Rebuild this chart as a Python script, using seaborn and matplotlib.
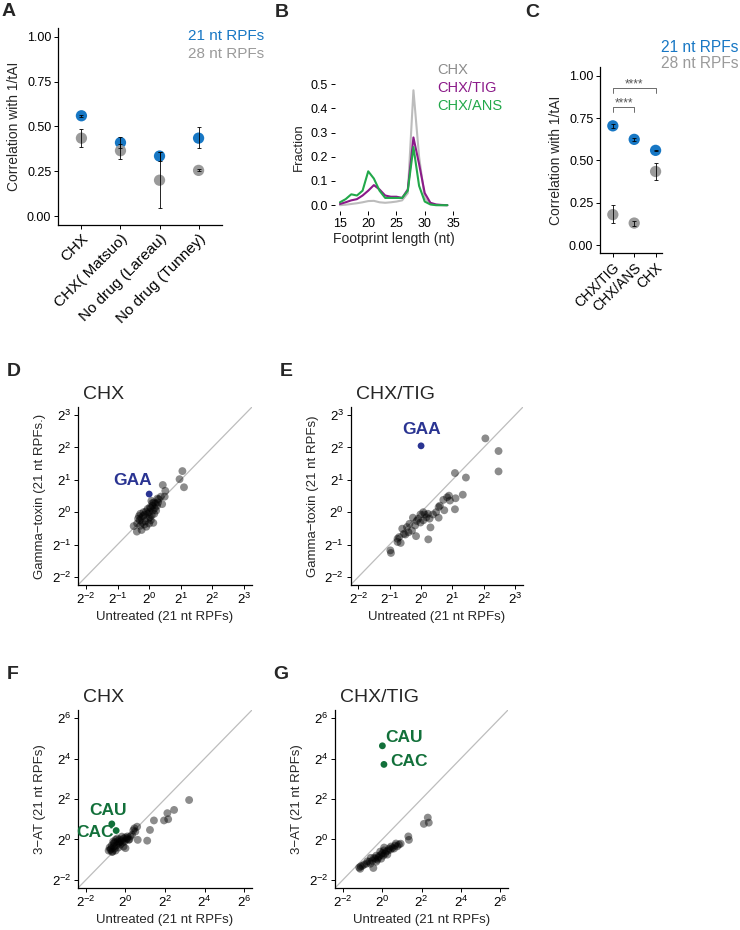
import numpy as np
import pandas as pd
import seaborn as sns
import matplotlib
matplotlib.use("Agg")
from matplotlib import pyplot as plt

sns.set_style("ticks")
plt.rcParams['font.family'] = ['Liberation Sans', 'DejaVu Sans']
plt.rcParams['mathtext.fontset'] = 'custom'
plt.rcParams['mathtext.rm'] = 'Liberation Sans'
plt.rcParams['mathtext.it'] = 'Liberation Sans:italic'

BLUE = "#1777c4"
GREY = "#9a9a9a"

########
# DATA #
########

# A: correlation with 1/tAI
samples_a = ["CHX", "CHX( Matsuo)", "No drug (Lareau)", "No drug (Tunney)"]
a21 = [0.56, 0.41, 0.335, 0.435]
a21_lo = [0.553, 0.38, 0.31, 0.378]
a21_hi = [0.567, 0.44, 0.36, 0.497]
a28 = [0.435, 0.365, 0.20, 0.255]
a28_lo = [0.385, 0.32, 0.045, 0.25]
a28_hi = [0.487, 0.40, 0.36, 0.26]

# B: footprint length distributions
lengths = list(range(15, 35))
frac_chx = [0.0, 0.002, 0.005, 0.008, 0.012, 0.017, 0.018, 0.012, 0.010, 0.012,
            0.015, 0.020, 0.050, 0.475, 0.20, 0.030, 0.005, 0.001, 0.0, 0.0]
frac_tig = [0.005, 0.012, 0.020, 0.025, 0.040, 0.060, 0.083, 0.065, 0.040, 0.035,
            0.035, 0.030, 0.065, 0.280, 0.170, 0.050, 0.010, 0.003, 0.001, 0.0]
frac_ans = [0.012, 0.025, 0.045, 0.040, 0.060, 0.140, 0.110, 0.060, 0.030, 0.030,
            0.030, 0.030, 0.060, 0.240, 0.080, 0.015, 0.003, 0.0, 0.0, 0.0]
treatments_b = ["CHX", "CHX/TIG", "CHX/ANS"]
colors_b = ["#bcbcbc", "#8b1a89", "#22a84a"]
text_colors_b = ["#8c8c8c", "#8b1a89", "#22a84a"]

# C: correlation with 1/tAI per treatment
samples_c = ["CHX/TIG", "CHX/ANS", "CHX"]
c21 = [0.705, 0.625, 0.56]
c21_lo = [0.693, 0.617, 0.555]
c21_hi = [0.717, 0.633, 0.565]
c28 = [0.18, 0.13, 0.435]
c28_lo = [0.13, 0.115, 0.385]
c28_hi = [0.235, 0.145, 0.487]

# D-G: log2 codon ratios (untreated, treated)
d_x = [1.05, 0.96, 1.10, 0.43, 0.51, 0.49, 0.37, 0.26, 0.20, 0.41, 0.30,
       0.15, 0.10, 0.05, 0.12, 0.0, -0.05, 0.08, -0.10, -0.15, -0.20, -0.25,
       -0.28, -0.30, 0.02, 0.18, 0.22, -0.02, 0.05, -0.12, -0.22, -0.35, -0.38,
       0.13, -0.09, -0.24, -0.39, -0.49, 0.10, -0.05, 0.25, -0.18, -0.32, 0.0,
       -0.15, 0.16, 0.28, 0.07, -0.28, 0.02]
d_y = [1.27, 1.02, 0.77, 0.84, 0.66, 0.48, 0.48, 0.42, 0.27, 0.25, 0.40,
       0.30, 0.20, 0.12, 0.05, 0.0, -0.05, -0.10, 0.02, -0.08, -0.12, -0.18,
       -0.05, -0.25, 0.15, 0.12, 0.05, -0.20, -0.25, -0.28, -0.32, -0.20, -0.35,
       -0.33, -0.45, -0.55, -0.60, -0.43, 0.28, 0.10, 0.20, 0.0, -0.12, -0.35,
       -0.38, -0.05, 0.30, 0.35, -0.42, -0.15]
d_hl = ["GAA"]
d_hl_x = [0.0]
d_hl_y = [0.56]

e_x = [2.05, 2.47, 2.47, 1.08, 1.43, 1.33, 0.89, 1.10, 0.92, 0.71, 1.08,
       0.74, 0.56, 0.48, 0.38, 0.56, 0.12, 0.22, 0.07, 0.27, 0.30, 0.23,
       0.07, -0.02, -0.14, -0.26, -0.19, -0.16, -0.29, -0.45, -0.40, -0.55,
       -0.60, -0.70, -0.75, -0.75, -0.65, -0.98, -0.96, -0.02, 0.17, -0.09,
       -0.37, -0.50, 0.83, 0.60]
e_y = [2.28, 1.89, 1.26, 1.21, 1.07, 0.54, 0.51, 0.43, 0.36, 0.38, 0.09,
       0.06, 0.16, 0.0, -0.07, -0.17, -0.07, -0.05, 0.0, -0.20, -0.47, -0.84,
       -0.25, -0.32, -0.27, -0.17, -0.41, -0.74, -0.57, -0.46, -0.62, -0.67,
       -0.51, -0.77, -0.82, -0.92, -0.95, -1.18, -1.26, -0.07, -0.16, -0.20,
       -0.36, -0.69, 0.46, 0.20]
e_hl = ["GAA"]
e_hl_x = [0.0]
e_hl_y = [2.05]

f_x = [3.22, 2.46, 2.12, 1.95, 2.16, 1.44, 1.24, 1.10, 0.59, 0.50, 0.62,
       0.33, 0.08, 0.0, -0.18, 0.16, 0.25, 0.40, 0.45, -0.76, -0.59, -0.33,
       -0.50, -0.70, -0.65, -0.55, -0.45, -0.40, -0.30, -0.25, -0.20, -0.10,
       -0.05, 0.0, 0.05, -0.60, -0.72, -0.50, -0.35, -0.15, -0.62, -0.42,
       0.10, -0.80, -0.68, -0.28, -0.55, 0.20, -0.10, -0.85]
f_y = [1.95, 1.46, 1.30, 0.94, 1.00, 0.94, 0.47, -0.06, 0.63, 0.39, -0.02,
       0.23, 0.06, -0.43, 0.14, -0.02, 0.15, 0.45, 0.55, -0.51, -0.35, -0.18,
       -0.02, -0.30, -0.60, -0.45, -0.30, -0.10, 0.0, -0.25, -0.05, 0.05,
       -0.10, 0.10, 0.0, -0.20, -0.45, -0.55, -0.40, -0.15, -0.10, 0.05,
       0.15, -0.40, -0.62, -0.12, -0.15, 0.0, -0.35, -0.55]
f_hl = ["CAU", "CAC"]
f_hl_x = [-0.69, -0.47]
f_hl_y = [0.77, 0.44]

g_x = [2.32, 2.37, 2.12, 1.33, 1.36, 0.94, 0.85, 0.77, 0.65, 0.52, 0.43,
       0.35, 0.26, 0.20, 0.09, 0.01, 0.05, -0.05, -0.10, -0.16, -0.24, -0.30,
       -0.35, -0.41, -0.45, -0.50, -0.58, -0.65, -0.75, -0.80, -0.92, -1.00,
       -1.09, -1.17, -1.12, -0.20, 0.15, 0.30, 0.60, 0.70, -0.60, -0.30, 0.10,
       -0.05, 0.45]
g_y = [1.08, 0.83, 0.77, 0.15, -0.02, -0.21, -0.25, -0.34, -0.30, -0.42, -0.50,
       -0.45, -0.75, -0.60, -0.54, -0.67, -0.80, -0.75, -0.60, -0.83, -1.00, -0.80,
       -0.95, -0.91, -1.41, -1.05, -0.91, -1.10, -1.08, -1.20, -1.24, -1.30,
       -1.33, -1.39, -1.45, -0.90, -0.70, -0.55, -0.45, -0.20, -1.20, -1.10, -0.40,
       -0.95, -0.35]
g_hl = ["CAU", "CAC"]
g_hl_x = [0.01, 0.09]
g_hl_y = [4.63, 3.71]

############
# PLOTTING #
############

fig = plt.figure(figsize=(7.4, 9.3), dpi=100)


def add_ax(l, r, t, b):
    return fig.add_axes([l / 740, 1 - b / 930, (r - l) / 740, (b - t) / 930])


def style_axis(ax, size=9):
    for s in ["top", "right"]:
        ax.spines[s].set_visible(False)
    for s in ["left", "bottom"]:
        ax.spines[s].set_linewidth(0.9)
        ax.spines[s].set_color("black")
    ax.tick_params(length=2.8, width=0.7, labelsize=size, colors="black", pad=2)


def dot_panel(ax, cats, vals, lo, hi, color):
    df = pd.DataFrame({"sample": cats, "r": vals})
    sns.scatterplot(data=df, x="sample", y="r", color=color, s=66,
                    edgecolor="none", ax=ax, zorder=2)
    vals = np.array(vals)
    ax.errorbar(cats, vals, yerr=[vals - np.array(lo), np.array(hi) - vals],
                fmt="none", ecolor="black", elinewidth=0.6, capsize=1.3,
                capthick=0.6, zorder=3)


def rotate_labels(ax, size):
    for lbl in ax.get_xticklabels():
        lbl.set_rotation(45)
        lbl.set_ha("right")
        lbl.set_rotation_mode("anchor")
        lbl.set_fontsize(size)


# ---- A ----
ax = add_ax(58, 222, 28, 225)
dot_panel(ax, samples_a, a21, a21_lo, a21_hi, BLUE)
dot_panel(ax, samples_a, a28, a28_lo, a28_hi, GREY)
ax.set_xlim(-0.6, 3.6)
ax.set_ylim(-0.05, 1.05)
ax.set_yticks([0, 0.25, 0.5, 0.75, 1.0])
ax.set_yticklabels(["0.00", "0.25", "0.50", "0.75", "1.00"])
style_axis(ax)
rotate_labels(ax, 11)
ax.set_xlabel("")
ax.set_ylabel("Correlation with 1/tAI", fontsize=10, labelpad=4)
fig.text(188 / 740, 1 - 36 / 930, "21 nt RPFs", color=BLUE, fontsize=11, va="center")
fig.text(188 / 740, 1 - 54 / 930, "28 nt RPFs", color=GREY, fontsize=11, va="center")

# ---- B ----
ax = add_ax(334.6, 453, 83, 211)
df_b = pd.DataFrame({
    "length": lengths * 3,
    "fraction": frac_chx + frac_tig + frac_ans,
    "treatment": [t for t in treatments_b for _ in lengths],
})
sns.lineplot(data=df_b, x="length", y="fraction", hue="treatment",
             hue_order=treatments_b, palette=colors_b, linewidth=1.5,
             legend=False, ax=ax)
ax.set_xlim(14.05, 34.95)
ax.set_ylim(-0.024, 0.505)
ax.set_xticks([15, 20, 25, 30, 35])
ax.set_yticks([0, 0.1, 0.2, 0.3, 0.4, 0.5])
for s in ax.spines.values():
    s.set_visible(False)
ax.tick_params(length=2.8, width=0.7, labelsize=9, colors="black", pad=2)
ax.set_xlabel("Footprint length (nt)", fontsize=10, labelpad=2)
ax.set_ylabel("Fraction", fontsize=9.5, labelpad=4)
for i, (name, col) in enumerate(zip(treatments_b, text_colors_b)):
    fig.text(437 / 740, 1 - (70 + 18 * i) / 930, name, color=col,
             fontsize=10.5, va="center")

# ---- C ----
ax = add_ax(600, 662, 67.5, 253.5)
dot_panel(ax, samples_c, c21, c21_lo, c21_hi, BLUE)
dot_panel(ax, samples_c, c28, c28_lo, c28_hi, GREY)
ax.set_xlim(-0.6, 2.3)
ax.set_ylim(-0.05, 1.05)
ax.set_yticks([0, 0.25, 0.5, 0.75, 1.0])
ax.set_yticklabels(["0.00", "0.25", "0.50", "0.75", "1.00"])
style_axis(ax)
rotate_labels(ax, 10)
ax.set_xlabel("")
ax.set_ylabel("Correlation with 1/tAI", fontsize=10, labelpad=4)
for x0, x1, yb in [(0, 2, 0.93), (0, 1, 0.818)]:
    ax.plot([x0, x0, x1, x1], [yb - 0.03, yb, yb, yb - 0.03], color="#555555", lw=0.6)
    ax.text((x0 + x1) / 2, yb - 0.015, "****", ha="center", va="bottom",
            fontsize=8.5, color="#555555")
fig.text(661 / 740, 1 - 47 / 930, "21 nt RPFs", color=BLUE, fontsize=11.2, va="center")
fig.text(661 / 740, 1 - 64 / 930, "28 nt RPFs", color=GREY, fontsize=11.2, va="center")


# ---- D-G ----
def ratio_panel(ax, ux, ty, hl, hl_x, hl_y, hl_color, lo, hi, step, pad,
                title, ylabel, offsets):
    ax.set_xscale("log", base=2)
    ax.set_yscale("log", base=2)
    ax.axline((1, 1), (2, 2), color="#bdbdbd", lw=0.9, zorder=1)
    df = pd.DataFrame({"untreated": np.exp2(ux), "treated": np.exp2(ty)})
    sns.scatterplot(data=df, x="untreated", y="treated", color="black",
                    alpha=0.45, s=32, edgecolor="none", ax=ax, zorder=2)
    df_hl = pd.DataFrame({"untreated": np.exp2(hl_x), "treated": np.exp2(hl_y),
                          "codon": hl})
    sns.scatterplot(data=df_hl, x="untreated", y="treated", color=hl_color,
                    s=24, edgecolor="none", ax=ax, zorder=3)
    for (name, px, py), (dx, dy, ha) in zip(zip(hl, df_hl.untreated, df_hl.treated), offsets):
        ax.annotate(name, (px, py), xytext=(dx, dy), textcoords="offset points",
                    ha=ha, va="center", fontsize=12.5, fontweight="bold",
                    color=hl_color)
    ax.set_xlim(2.0 ** (lo - pad), 2.0 ** (hi + pad))
    ax.set_ylim(2.0 ** (lo - pad), 2.0 ** (hi + pad))
    ks = list(range(lo, hi + 1, step))
    ax.set_xticks([2.0 ** k for k in ks])
    ax.set_yticks([2.0 ** k for k in ks])
    ax.set_xticklabels([f"$2^{{{k}}}$" for k in ks])
    ax.set_yticklabels([f"$2^{{{k}}}$" for k in ks])
    ax.minorticks_off()
    style_axis(ax, 9.5)
    ax.set_xlabel("Untreated (21 nt RPFs)", fontsize=9.5, labelpad=3)
    ax.set_ylabel(ylabel, fontsize=9.5, labelpad=4)
    ax.text(0.03, 1.02, title, transform=ax.transAxes, fontsize=14,
            ha="left", va="bottom")


NAVY = "#2a3492"
DKGREEN = "#12703a"
ax = add_ax(78, 252, 407, 585)
ratio_panel(ax, d_x, d_y, d_hl, d_hl_x, d_hl_y, NAVY, -2, 3, 1, 0.25, "CHX",
            "Gamma\u2212toxin (21 nt RPFs.)", [(-12, 10, "center")])
ax = add_ax(350.5, 523, 407, 585)
ratio_panel(ax, e_x, e_y, e_hl, e_hl_x, e_hl_y, NAVY, -2, 3, 1, 0.25, "CHX/TIG",
            "Gamma\u2212toxin (21 nt RPFs)", [(0, 12, "center")])
ax = add_ax(78, 252, 710, 888)
ratio_panel(ax, f_x, f_y, f_hl, f_hl_x, f_hl_y, DKGREEN, -2, 6, 2, 0.4, "CHX",
            "3\u2212AT (21 nt RPFs)", [(-2.5, 9.5, "center"), (-2, -1.5, "right")])
ax = add_ax(335, 508, 710, 888)
ratio_panel(ax, g_x, g_y, g_hl, g_hl_x, g_hl_y, DKGREEN, -2, 6, 2, 0.4, "CHX/TIG",
            "3\u2212AT (21 nt RPFs)", [(2.4, 6, "left"), (4.5, 2, "left")])

# panel letters
for letter, x, y in [("A", 2, 3), ("B", 275, 4), ("C", 525, 4), ("D", 7, 363),
                     ("E", 280, 363), ("F", 7, 666), ("G", 273, 666)]:
    fig.text(x / 740, 1 - y / 930, letter, fontsize=14, fontweight="bold",
             va="top", ha="left")

fig.savefig("out.png", dpi=100)
